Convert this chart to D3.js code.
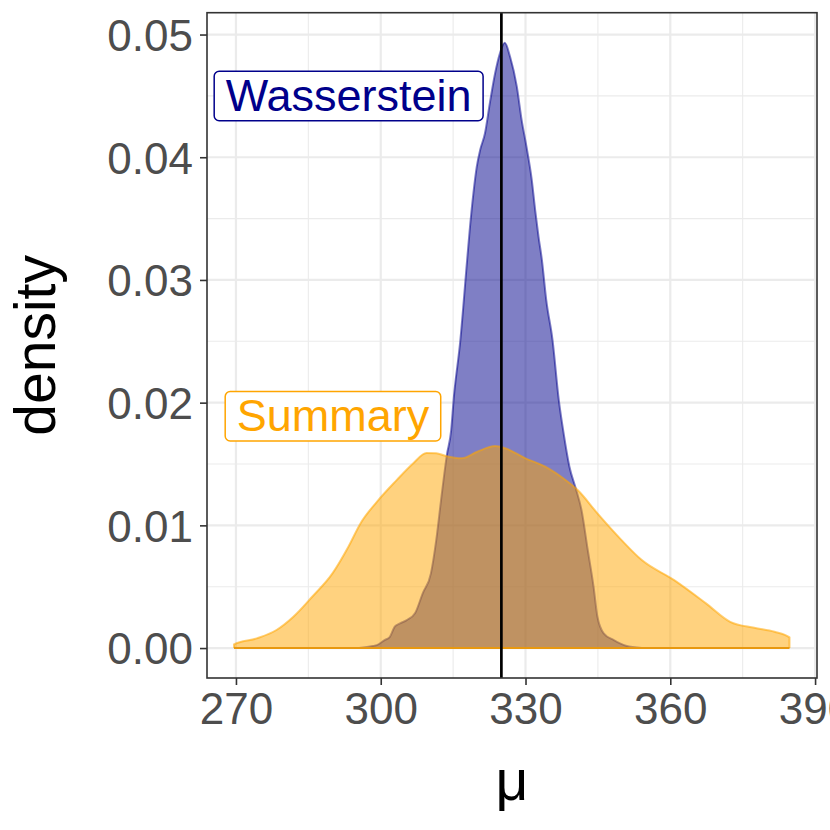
<!DOCTYPE html>
<html>
<head>
<meta charset="utf-8">
<script src="https://cdn.jsdelivr.net/npm/d3@7"></script>
<style>
  body { margin: 0; background: #fff; }
  svg text { font-family: "Liberation Sans", Arial, Helvetica, sans-serif; }
</style>
</head>
<body>
<div id="chart"></div>
<script>
// posterior density of mu
var wassX = [295.5, 298.3, 299.2, 300.8, 301.9, 302.9, 304.0, 305.4, 307.1, 308.7, 310.4, 311.5,
             312.5, 313.7, 314.6, 315.1, 316.5, 317.9, 318.5, 319.2, 319.9, 320.6, 321.6, 322.6,
             323.7, 324.7, 325.7, 326.8, 328.2, 329.2, 330.2, 331.3, 332.0, 332.7, 333.4, 334.3,
             335.6, 336.9, 337.9, 339.1, 340.4, 341.6, 342.9, 344.1, 344.9, 346.2, 348.3, 350.8, 354.1];
var wassY = [0, 0.00016, 0.00024, 0.00065, 0.00092, 0.00174, 0.00201, 0.00228, 0.00283, 0.00446, 0.00609, 0.0088,
             0.01206, 0.01573, 0.01777, 0.02021, 0.0251, 0.03162, 0.03434, 0.03706, 0.03923, 0.04059, 0.04195, 0.04439,
             0.04684, 0.04847, 0.04933, 0.04819, 0.04575, 0.04303, 0.04086, 0.03814, 0.0357, 0.03352, 0.03162, 0.02836,
             0.0251, 0.02021, 0.0175, 0.01478, 0.01302, 0.01125, 0.00799, 0.005, 0.00255, 0.0012, 0.00065, 0.00019, 0];

var summX = [269.6, 269.6, 274.3, 278.4, 281.9, 285.8, 290.0, 293.3, 295.8, 299.2, 303.3, 306.7,
             309.5, 311.5, 313.5, 316.8, 320.0, 323.7, 325.8, 330.0, 334.1, 338.3, 340.8, 344.9,
             349.9, 354.1, 360.8, 367.4, 372.4, 377.4, 381.6, 384.7, 384.7];
var summY = [0, 0.0003, 0.00079, 0.00147, 0.00255, 0.00418, 0.00609, 0.00826, 0.01016, 0.01192, 0.01369, 0.01505,
             0.0159, 0.01588, 0.01565, 0.01546, 0.016, 0.01646, 0.01628, 0.01546, 0.01478, 0.01369, 0.01288, 0.01098,
             0.0088, 0.00717, 0.00554, 0.00364, 0.00214, 0.00165, 0.00133, 0.00087, 0];

var trueMu = 325;

var labelText = ["Wasserstein", "Summary"];
var labelX = [293.35, 290.1];
var labelY = [0.045, 0.0189];
var labelCol = ["#00008B", "#FFA500"];

var xTicks = [270, 300, 330, 360, 390];
var xMinor = [285, 315, 345, 375];
var yTicks = [0, 0.01, 0.02, 0.03, 0.04, 0.05];
var yMinor = [0.005, 0.015, 0.025, 0.035, 0.045];

var W = 830, H = 830;
var panel = {left: 207, right: 817, top: 12.7, bottom: 678};

var x = d3.scaleLinear().domain([264.0, 390.4]).range([panel.left, panel.right]);
var y = d3.scaleLinear().domain([-0.00244, 0.05178]).range([panel.bottom, panel.top]);

var svg = d3.select("#chart").append("svg")
    .attr("width", W)
    .attr("height", H);

// grid
var grid = svg.append("g");
grid.selectAll(".ymin").data(yMinor).enter().append("line")
    .attr("x1", panel.left).attr("x2", panel.right)
    .attr("y1", function(d) { return y(d); }).attr("y2", function(d) { return y(d); })
    .attr("stroke", "#EBEBEB").attr("stroke-width", 1.1);
grid.selectAll(".xmin").data(xMinor).enter().append("line")
    .attr("y1", panel.top).attr("y2", panel.bottom)
    .attr("x1", function(d) { return x(d); }).attr("x2", function(d) { return x(d); })
    .attr("stroke", "#EBEBEB").attr("stroke-width", 1.1);
grid.selectAll(".ymaj").data(yTicks).enter().append("line")
    .attr("x1", panel.left).attr("x2", panel.right)
    .attr("y1", function(d) { return y(d); }).attr("y2", function(d) { return y(d); })
    .attr("stroke", "#EBEBEB").attr("stroke-width", 2.2);
grid.selectAll(".xmaj").data(xTicks).enter().append("line")
    .attr("y1", panel.top).attr("y2", panel.bottom)
    .attr("x1", function(d) { return x(d); }).attr("x2", function(d) { return x(d); })
    .attr("stroke", "#EBEBEB").attr("stroke-width", 2.2);

var area = d3.area()
    .x(function(d) { return x(d[0]); })
    .y0(y(0))
    .y1(function(d) { return y(d[1]); })
    .curve(d3.curveMonotoneX);
var upper = d3.line()
    .x(function(d) { return x(d[0]); })
    .y(function(d) { return y(d[1]); })
    .curve(d3.curveMonotoneX);

var wass = d3.zip(wassX, wassY);
var summ = d3.zip(summX, summY);

// Wasserstein first, Summary on top of it
svg.append("path").datum(wass)
    .attr("d", area)
    .attr("fill", "#00008B").attr("fill-opacity", 0.5);
svg.append("path").datum(wass)
    .attr("d", upper)
    .attr("fill", "none").attr("stroke", "#00008B").attr("stroke-opacity", 0.5)
    .attr("stroke-width", 2);

svg.append("path").datum(summ)
    .attr("d", area)
    .attr("fill", "#FFA500").attr("fill-opacity", 0.5);
svg.append("path").datum(summ)
    .attr("d", upper)
    .attr("fill", "none").attr("stroke", "#FFA500").attr("stroke-opacity", 0.55)
    .attr("stroke-width", 2);
svg.append("line")
    .attr("x1", x(summX[0])).attr("x2", x(summX[summX.length - 1]))
    .attr("y1", y(0)).attr("y2", y(0))
    .attr("stroke", "#E8980F").attr("stroke-width", 2);

// true value
svg.append("line")
    .attr("x1", x(trueMu)).attr("x2", x(trueMu))
    .attr("y1", panel.top).attr("y2", panel.bottom)
    .attr("stroke", "#000").attr("stroke-width", 2.7);

// labels
labelText.forEach(function(t, i) {
  var g = svg.append("g");
  var rect = g.append("rect");
  var txt = g.append("text")
      .attr("x", x(labelX[i]))
      .attr("y", y(labelY[i]) + 15)
      .attr("text-anchor", "middle")
      .attr("font-size", "45px")
      .attr("fill", labelCol[i])
      .text(t);
  var w = txt.node().getComputedTextLength() + 23;
  rect.attr("x", x(labelX[i]) - w / 2)
      .attr("y", y(labelY[i]) - 24.7)
      .attr("width", w)
      .attr("height", 49.5)
      .attr("rx", 5).attr("ry", 5)
      .attr("fill", "#fff")
      .attr("stroke", labelCol[i])
      .attr("stroke-width", 1.5);
});

// panel border
svg.append("rect")
    .attr("x", panel.left).attr("y", panel.top)
    .attr("width", panel.right - panel.left)
    .attr("height", panel.bottom - panel.top)
    .attr("fill", "none")
    .attr("stroke", "#333333")
    .attr("stroke-width", 1.6);

// axes
var xAxis = svg.append("g")
    .attr("transform", "translate(0," + panel.bottom + ")")
    .call(d3.axisBottom(x).tickValues(xTicks).tickSize(7).tickPadding(8).tickFormat(d3.format("d")));
var yAxis = svg.append("g")
    .attr("transform", "translate(" + panel.left + ",0)")
    .call(d3.axisLeft(y).tickValues(yTicks).tickSize(7).tickPadding(7).tickFormat(d3.format(".2f")));

[xAxis, yAxis].forEach(function(a) {
  a.select(".domain").remove();
  a.selectAll(".tick line").attr("stroke", "#333333").attr("stroke-width", 1.6);
  a.selectAll(".tick text")
      .attr("fill", "#4D4D4D")
      .attr("font-size", "44px")
      .attr("font-family", "Liberation Sans, Arial, sans-serif");
});
xAxis.selectAll(".tick text").attr("dy", "0.71em");
yAxis.selectAll(".tick text").attr("dy", "0.36em");

// titles
svg.append("text")
    .attr("x", (panel.left + panel.right) / 2)
    .attr("y", 800)
    .attr("text-anchor", "middle")
    .attr("font-size", "57px")
    .attr("fill", "#000")
    .text("μ");
svg.append("text")
    .attr("transform", "translate(55," + (panel.top + panel.bottom) / 2 + ") rotate(-90)")
    .attr("text-anchor", "middle")
    .attr("font-size", "57px")
    .attr("fill", "#000")
    .text("density");
</script>
</body>
</html>
